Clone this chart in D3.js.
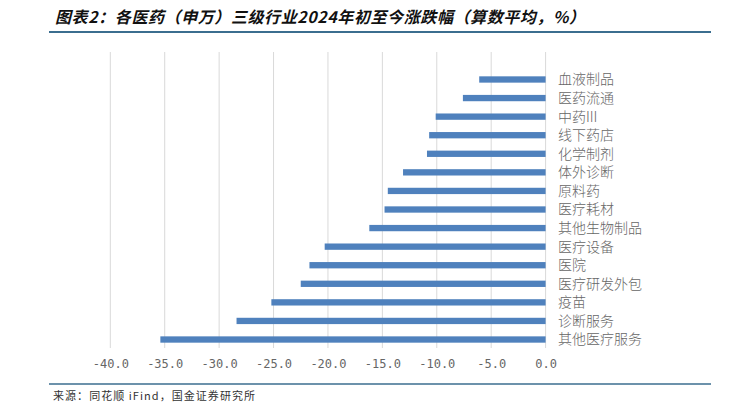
<!DOCTYPE html>
<html>
<head>
<meta charset="utf-8">
<script src="https://cdn.jsdelivr.net/npm/d3@7"></script>
<style>
  html, body { margin: 0; padding: 0; background: #fff; }
  svg { display: block; }
</style>
</head>
<body>
<svg id="chart" width="738" height="408"></svg>
<script>
const categories = ["血液制品","医药流通","中药III","线下药店","化学制剂","体外诊断","原料药","医疗耗材","其他生物制品","医疗设备","医院","医疗研发外包","疫苗","诊断服务","其他医疗服务"];
const values = [-6.1,-7.6,-10.1,-10.7,-10.9,-13.1,-14.5,-14.8,-16.2,-20.3,-21.7,-22.5,-25.2,-28.4,-35.4];
const tickValues = [-40,-35,-30,-25,-20,-15,-10,-5,0];
const tickLabels = ["-40.0","-35.0","-30.0","-25.0","-20.0","-15.0","-10.0","-5.0","0.0"];
const title = "图表2：各医药（申万）三级行业2024年初至今涨跌幅（算数平均，%）";
const source = "来源：同花顺 iFind，国金证券研究所";

const svg = d3.select("#chart");
const cjk = "'Noto Sans CJK SC', 'Noto Sans', sans-serif";

// Title
svg.append("text")
  .attr("x", 55).attr("y", 23)
  .attr("font-family", cjk)
  .attr("font-size", 16)
  .attr("font-weight", "bold")
  .attr("font-style", "italic")
  .attr("fill", "#111")
  .attr("textLength", 530)
  .attr("lengthAdjust", "spacing")
  .text(title);

svg.append("line")
  .attr("x1", 49).attr("x2", 711).attr("y1", 32).attr("y2", 32)
  .attr("stroke", "#3b6e8f").attr("stroke-width", 2);

// Scales
const x = d3.scaleLinear().domain([-40, 0]).range([110.3, 545.6]);
const y = d3.scaleBand().domain(categories).range([70.2, 348.8]).paddingInner(0.66).paddingOuter(0.33);

const gridTop = 52, gridBottom = 348;

// Gridlines
svg.append("g").selectAll("line").data(tickValues).join("line")
  .attr("x1", d => x(d)).attr("x2", d => x(d))
  .attr("y1", gridTop).attr("y2", gridBottom)
  .attr("stroke", "#d9d9d9").attr("stroke-width", 1);

// Bars
svg.append("g").selectAll("rect").data(categories).join("rect")
  .attr("x", (d, i) => x(values[i]))
  .attr("width", (d, i) => x(0) - x(values[i]))
  .attr("y", d => y(d))
  .attr("height", y.bandwidth())
  .attr("fill", "#4f81bd");

// Category labels
svg.append("g").selectAll("text").data(categories).join("text")
  .attr("x", 558)
  .attr("y", d => y(d) + y.bandwidth() / 2)
  .attr("dy", "0.35em")
  .attr("font-family", cjk)
  .attr("font-size", 14)
  .attr("font-weight", 300)
  .attr("fill", "#666")
  .text(d => d);

// X axis tick labels
const xAxis = d3.axisBottom(x).tickValues(tickValues).tickSize(0).tickPadding(0)
  .tickFormat((d, i) => tickLabels[i]);
const gx = svg.append("g").attr("transform", "translate(0,359)").call(xAxis);
gx.select(".domain").remove();
gx.selectAll("text")
  .attr("font-family", "'DejaVu Sans Mono', 'Liberation Mono', monospace")
  .attr("font-size", 12)
  .attr("fill", "#666");

// Footer
svg.append("line")
  .attr("x1", 49).attr("x2", 711).attr("y1", 384).attr("y2", 384)
  .attr("stroke", "#3b6e8f").attr("stroke-width", 1.5);

svg.append("text")
  .attr("x", 53).attr("y", 400)
  .attr("font-family", cjk)
  .attr("font-size", 11)
  .attr("fill", "#333")
  .attr("textLength", 202)
  .attr("lengthAdjust", "spacing")
  .text(source);
</script>
</body>
</html>
